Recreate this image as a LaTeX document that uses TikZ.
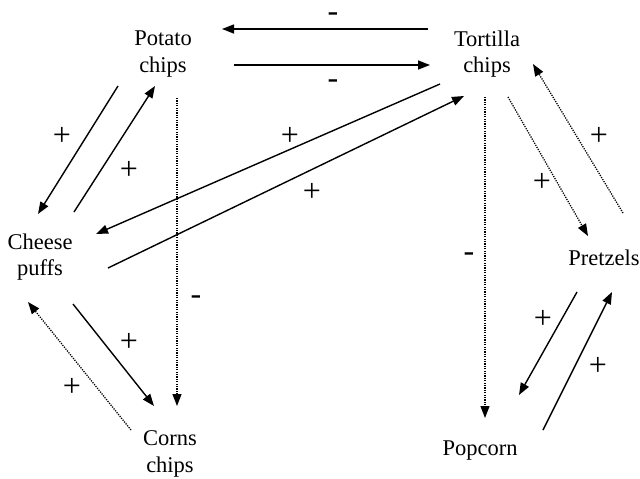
\documentclass[tikz,border=0pt]{standalone}
\usepackage{fontspec}
\setmainfont{Liberation Serif}
\usetikzlibrary{arrows.meta}
\begin{document}
\begin{tikzpicture}[x=1pt,y=-1pt,
  lbl/.style={font=\fontsize{22.5}{26.5}\selectfont, align=center, inner sep=0pt},
  sgn/.style={font=\fontsize{32}{32}\selectfont, inner sep=0pt, text height=0.5em, text depth=0pt, anchor=base},
  arr/.style={line width=1.4pt, -{Triangle[length=12pt,width=9pt]}},
  darr/.style={line width=1.3pt, dash pattern=on 1.2pt off 1.2pt, -{Triangle[length=12pt,width=9pt]}}]
\useasboundingbox (0,0) rectangle (640,479);
% nodes
\node[lbl] (pc) at (163,54) {Potato\\chips};
\node[lbl] (tc) at (487,54) {Tortilla\\chips};
\node[lbl] (cp) at (40,257) {Cheese\\puffs};
\node[lbl] (pr) at (604,258) {Pretzels};
\node[lbl] (cc) at (170,454) {Corns\\chips};
\node[lbl] (po) at (480,451) {Popcorn};
% coordinates
\coordinate (a1s) at (428,29); \coordinate (a1e) at (222,29);
\coordinate (a2s) at (234,65); \coordinate (a2e) at (430,65);
\coordinate (a3s) at (118,86); \coordinate (a3e) at (38,214);
\coordinate (a4s) at (74,212); \coordinate (a4e) at (155,86);
\coordinate (a5s) at (440,84); \coordinate (a5e) at (96,234);
\coordinate (a6s) at (108,268); \coordinate (a6e) at (464,96);
\coordinate (a7s) at (177,98); \coordinate (a7e) at (177,406);
\coordinate (a8s) at (73,304); \coordinate (a8e) at (154,406);
\coordinate (a9s) at (131,430); \coordinate (a9e) at (28,302);
\coordinate (a10s) at (485,97); \coordinate (a10e) at (485,418);
\coordinate (a11s) at (508,97); \coordinate (a11e) at (588,236);
\coordinate (a12s) at (623,213); \coordinate (a12e) at (533,64);
\coordinate (a13s) at (577,292); \coordinate (a13e) at (519,395);
\coordinate (a14s) at (543,430); \coordinate (a14e) at (612,292);
% connectors
\draw[arr] (a1s) -- (a1e);
\draw[arr] (a2s) -- (a2e);
\draw[arr] (a3s) -- (a3e);
\draw[arr] (a4s) -- (a4e);
\draw[arr] (a5s) -- (a5e);
\draw[arr] (a6s) -- (a6e);
\draw[darr] (a7s) -- (a7e);
\draw[arr] (a8s) -- (a8e);
\draw[darr] (a9s) -- (a9e);
\draw[darr] (a10s) -- (a10e);
\draw[darr] (a11s) -- (a11e);
\draw[darr] (a12s) -- (a12e);
\draw[arr] (a13s) -- (a13e);
\draw[arr] (a14s) -- (a14e);
% signs (placed by baseline)
\node[sgn] (s1) at (333,21) {-};
\node[sgn] (s2) at (333,88) {-};
\node[sgn] (s3) at (62,145) {+};
\node[sgn] (s4) at (129,179) {+};
\node[sgn] (s5) at (290,145) {+};
\node[sgn] (s6) at (312,201) {+};
\node[sgn] (s7) at (196,304) {-};
\node[sgn] (s8) at (129,351) {+};
\node[sgn] (s9) at (72,396) {+};
\node[sgn] (s10) at (469,261) {-};
\node[sgn] (s11) at (542,191) {+};
\node[sgn] (s12) at (599,145) {+};
\node[sgn] (s13) at (543,328) {+};
\node[sgn] (s14) at (598,375) {+};
\end{tikzpicture}
\end{document}
